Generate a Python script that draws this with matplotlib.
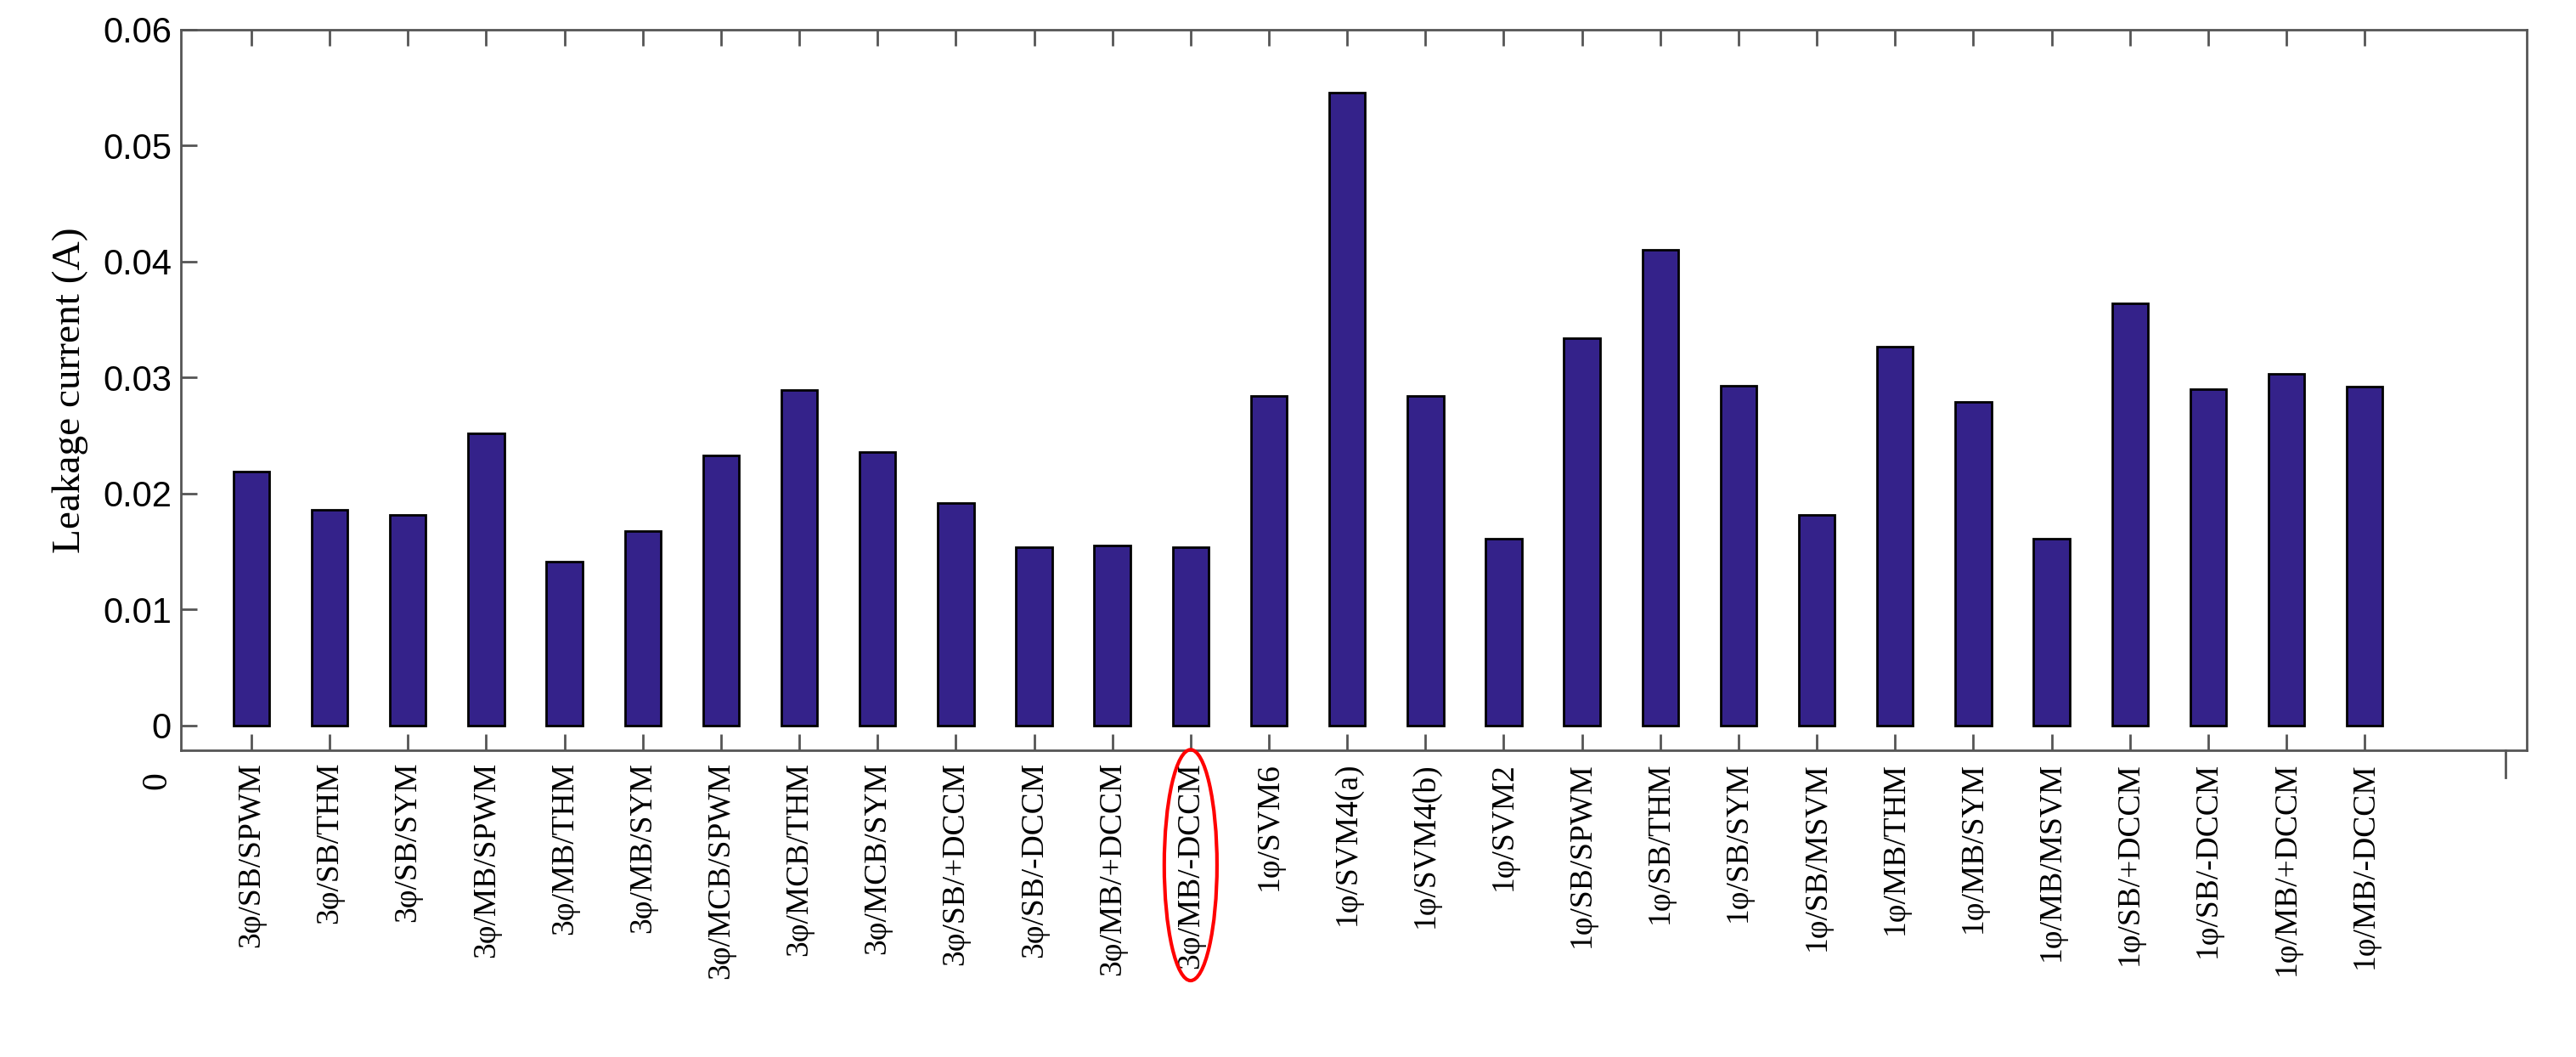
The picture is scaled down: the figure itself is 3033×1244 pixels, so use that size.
import matplotlib
matplotlib.use("Agg")
import matplotlib.pyplot as plt
from matplotlib.patches import Ellipse

categories = ["3φ/SB/SPWM","3φ/SB/THM","3φ/SB/SYM","3φ/MB/SPWM","3φ/MB/THM","3φ/MB/SYM",
 "3φ/MCB/SPWM","3φ/MCB/THM","3φ/MCB/SYM","3φ/SB/+DCCM","3φ/SB/-DCCM","3φ/MB/+DCCM","3φ/MB/-DCCM",
 "1φ/SVM6","1φ/SVM4(a)","1φ/SVM4(b)","1φ/SVM2","1φ/SB/SPWM","1φ/SB/THM","1φ/SB/SYM","1φ/SB/MSVM",
 "1φ/MB/THM","1φ/MB/SYM","1φ/MB/MSVM","1φ/SB/+DCCM","1φ/SB/-DCCM","1φ/MB/+DCCM","1φ/MB/-DCCM"]
values = [0.0219,0.0186,0.0182,0.0252,0.0141,0.0168,0.0233,0.0289,0.0236,0.0192,0.0154,0.0155,0.0154,
 0.0284,0.0546,0.0284,0.0161,0.0334,0.0410,0.0293,0.0182,0.0327,0.0279,0.0161,0.0364,0.0290,0.0303,0.0292]
yticks = [0, 0.01, 0.02, 0.03, 0.04, 0.05, 0.06]
ytick_labels = ["0", "0.01", "0.02", "0.03", "0.04", "0.05", "0.06"]

fig = plt.figure(figsize=(30.33, 12.44), dpi=100)
ax = fig.add_axes([213/3033, 1-883/1244, (2975-213)/3033, (883-35)/1244])
x = list(range(1, len(values)+1))
ax.bar(x, values, width=0.46, color="#34228a", edgecolor="black", linewidth=2)
ax.set_xlim(0.1, 30.07)
ax.set_ylim(-0.00213, 0.06)
ax.set_yticks(yticks)
ax.set_yticklabels(ytick_labels, family="Liberation Sans", fontsize=30)
ax.set_xticks(x)
ax.set_xticklabels(categories, rotation=90, family="Liberation Serif", fontsize=27)
ax.tick_params(axis="x", direction="in", length=14, width=2, top=True, pad=10, color="#555555")
ax.tick_params(axis="y", direction="in", length=14, width=2, pad=8, color="#555555")
for s in ax.spines.values():
    s.set_linewidth(2); s.set_color("#555555")
ax.set_ylabel("Leakage current (A)", family="Liberation Serif", fontsize=34, labelpad=12)
ax.text(-0.003, -0.004, "0", transform=ax.get_yaxis_transform(), rotation=90, ha="right", va="top",
        family="Liberation Serif", fontsize=30)
ax.plot([29.8, 29.8], [-0.00213, -0.0045], color="#555555", lw=2, clip_on=False)
ell = Ellipse((13, 0.5), width=0.95, height=0.0, transform=ax.get_xaxis_transform())
lab = ax.get_xticklabels()[12]
fig.canvas.draw()
bb = lab.get_window_extent().transformed(fig.transFigure.inverted())
cx, cy = (bb.x0+bb.x1)/2, (bb.y0+bb.y1)/2
fig.patches.append(Ellipse((cx, cy), width=(bb.x1-bb.x0)*1.8, height=(bb.y1-bb.y0)*1.12,
                           transform=fig.transFigure, fill=False, edgecolor="red", lw=3))
fig.savefig("out.png", dpi=100)
